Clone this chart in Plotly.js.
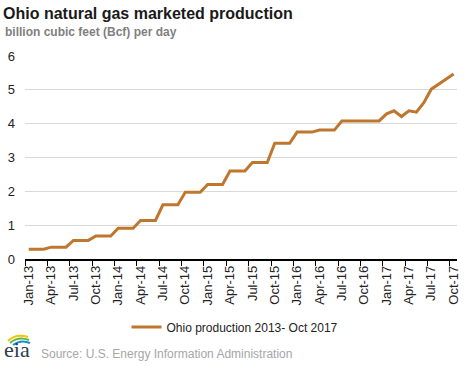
<!DOCTYPE html>
<html>
<head>
<meta charset="utf-8">
<script src="https://cdn.plot.ly/plotly-3.0.1.min.js"></script>
<style>html,body{margin:0;padding:0;background:#fff;}#chart{width:468px;height:366px;}</style>
</head>
<body>
<div id="chart"></div>
<script>
const months = [
  "Jan-13","Feb-13","Mar-13","Apr-13","May-13","Jun-13","Jul-13","Aug-13","Sep-13","Oct-13","Nov-13","Dec-13",
  "Jan-14","Feb-14","Mar-14","Apr-14","May-14","Jun-14","Jul-14","Aug-14","Sep-14","Oct-14","Nov-14","Dec-14",
  "Jan-15","Feb-15","Mar-15","Apr-15","May-15","Jun-15","Jul-15","Aug-15","Sep-15","Oct-15","Nov-15","Dec-15",
  "Jan-16","Feb-16","Mar-16","Apr-16","May-16","Jun-16","Jul-16","Aug-16","Sep-16","Oct-16","Nov-16","Dec-16",
  "Jan-17","Feb-17","Mar-17","Apr-17","May-17","Jun-17","Jul-17","Aug-17","Sep-17","Oct-17"
];
const production = [
  0.29,0.29,0.29, 0.35,0.35,0.35, 0.55,0.55,0.55, 0.68,0.68,0.68,
  0.91,0.91,0.91, 1.14,1.14,1.14, 1.60,1.60,1.60, 1.97,1.97,1.97,
  2.20,2.20,2.20, 2.60,2.60,2.60, 2.85,2.85,2.85, 3.42,3.42,3.42,
  3.75,3.75,3.75, 3.81,3.81,3.81, 4.08,4.08,4.08, 4.08,4.08,4.08,
  4.29,4.38,4.21, 4.38,4.34,4.62, 5.02,5.17,5.32, 5.47
];
const tickLabels = ["Jan-13","Apr-13","Jul-13","Oct-13","Jan-14","Apr-14","Jul-14","Oct-14",
  "Jan-15","Apr-15","Jul-15","Oct-15","Jan-16","Apr-16","Jul-16","Oct-16","Jan-17","Apr-17","Jul-17","Oct-17"];
const seriesName = "Ohio production 2013- Oct 2017";

const font = "Liberation Sans, Arial, sans-serif";

const trace = {
  type: "scatter", mode: "lines",
  x: months, y: production, name: seriesName,
  line: {color: "#BF772F", width: 3},
  hoverinfo: "skip"
};

const layout = {
  width: 468, height: 366,
  margin: {l: 25, r: 11, t: 56, b: 107, pad: 0},
  paper_bgcolor: "#fff", plot_bgcolor: "#fff",
  font: {family: font, size: 13, color: "#222"},
  title: {
    text: "Ohio natural gas marketed production",
    font: {family: font, size: 16, color: "#1a1a1a", weight: "bold"},
    xref: "container", yref: "container",
    x: 3/468, xanchor: "left", y: 1 - 13/366, yanchor: "middle"
  },
  xaxis: {
    type: "category",
    range: [-0.5, 57.45],
    tickmode: "array", tickvals: tickLabels, ticktext: tickLabels,
    tickson: "boundaries",
    tickangle: -90,
    ticks: "outside", ticklen: 5, tickwidth: 1, tickcolor: "#000",
    showline: true, linecolor: "#000", linewidth: 1.5,
    showgrid: false, zeroline: false,
    tickfont: {family: font, size: 13, color: "#222"},
    fixedrange: true
  },
  yaxis: {
    range: [0, 6], dtick: 1, tick0: 0,
    showgrid: true, gridcolor: "#d9d9d9", gridwidth: 1,
    zeroline: false, showline: false,
    ticks: "", ticklabelstandoff: 9,
    tickfont: {family: font, size: 13, color: "#222"},
    fixedrange: true
  },
  showlegend: true,
  legend: {
    orientation: "h", x: 0.5 - 6/432, xanchor: "center", y: (259 - 327) / 203, yanchor: "middle",
    font: {family: font, size: 12, color: "#222"},
    bgcolor: "rgba(0,0,0,0)"
  },
  annotations: [
    {text: "<b>billion cubic feet (Bcf) per day</b>", xref: "paper", yref: "paper",
     x: (3 - 25) / 432, y: (259 - 32) / 203, xanchor: "left", yanchor: "middle",
     showarrow: false, font: {family: font, size: 12, color: "#7f7f7f"}},
    {text: "Source: U.S. Energy Information Administration", xref: "paper", yref: "paper",
     x: (39 - 25) / 432, y: (259 - 354) / 203, xanchor: "left", yanchor: "middle",
     showarrow: false, font: {family: font, size: 12, color: "#a6a6a6"}},
    {text: "eia", xref: "paper", yref: "paper",
     x: (2 - 25) / 432, y: (259 - 349) / 203, xanchor: "left", yanchor: "middle",
     showarrow: false, font: {family: "Liberation Serif, DejaVu Serif, serif", size: 22, color: "#2e3b4e"}}
  ],
  shapes: [
    {type: "path", xref: "paper", yref: "paper",
     path: `M ${(8-25)/432} ${(259-341)/203} Q ${(16-25)/432} ${(259-333)/203} ${(28-25)/432} ${(259-337)/203}`,
     line: {color: "#f2c500", width: 2}},
    {type: "path", xref: "paper", yref: "paper",
     path: `M ${(10-25)/432} ${(259-343)/203} Q ${(18-25)/432} ${(259-336)/203} ${(29-25)/432} ${(259-340)/203}`,
     line: {color: "#5bb847", width: 2}},
    {type: "path", xref: "paper", yref: "paper",
     path: `M ${(13-25)/432} ${(259-345)/203} Q ${(21-25)/432} ${(259-339)/203} ${(30-25)/432} ${(259-343)/203}`,
     line: {color: "#1c8fd0", width: 2}}
  ]
};

Plotly.newPlot("chart", [trace], layout, {displayModeBar: false, staticPlot: true});
</script>
</body>
</html>
